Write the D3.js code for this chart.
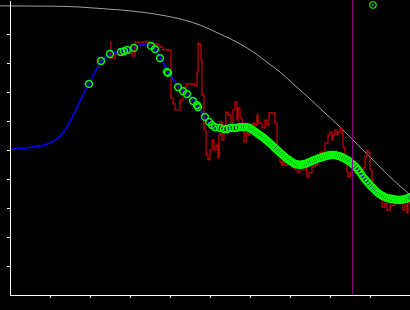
<!DOCTYPE html>
<html>
<head>
<meta charset="utf-8">
<script src="https://cdn.jsdelivr.net/npm/d3@7"></script>
<style>
  html, body { margin: 0; padding: 0; background: #000; overflow: hidden; }
  #chart { width: 410px; height: 310px; }
</style>
</head>
<body>
<div id="chart"></div>
<script>
// tick positions (axes carry no labels)
const xTicks = [1, 2, 3, 4, 5, 6, 7, 8, 9];
const yTicks = [1, 2, 3, 4, 5, 6, 7, 8, 9];

// gray envelope curve
const envX = [-0.25, 1.0, 1.75, 2.25, 2.75, 3.25, 3.75, 4.25, 4.75, 5.25, 5.75, 6.125, 6.45, 6.75, 7.0, 7.25, 7.5, 7.825, 8.2, 8.5, 8.75, 9.0, 9.25, 9.5, 9.75, 10.0];
const envY = [9.97, 9.96, 9.93, 9.88, 9.83, 9.76, 9.66, 9.52, 9.31, 9.0, 8.66, 8.34, 8.0, 7.69, 7.38, 7.07, 6.76, 6.34, 5.86, 5.45, 5.10, 4.76, 4.41, 4.07, 3.76, 3.45];

// blue mean curve
const meanX = [0, 0.25, 0.5, 0.75, 1.0, 1.125, 1.25, 1.375, 1.5, 1.625, 1.75, 1.875, 1.975, 2.125, 2.3, 2.4, 2.5, 2.65, 2.775, 2.925, 3.075, 3.25, 3.4, 3.55, 3.625, 3.75, 3.85, 3.95, 4.075, 4.2, 4.325, 4.425, 4.575, 4.7, 4.85, 4.95, 5.075, 5.2, 5.375, 5.55, 5.75, 5.925, 6.125, 6.375, 6.625, 6.875, 7.125, 7.375, 7.625, 7.875, 8.075, 8.3, 8.5, 8.675, 8.825, 9.0, 9.2, 9.45, 9.7, 9.875, 10.0];
const meanY = [5.03, 5.05, 5.09, 5.14, 5.24, 5.34, 5.48, 5.69, 5.97, 6.31, 6.69, 7.03, 7.28, 7.69, 8.07, 8.21, 8.31, 8.38, 8.41, 8.45, 8.52, 8.62, 8.64, 8.59, 8.48, 8.21, 7.97, 7.69, 7.45, 7.21, 7.03, 6.93, 6.72, 6.48, 6.17, 5.97, 5.79, 5.72, 5.72, 5.76, 5.79, 5.79, 5.62, 5.38, 5.07, 4.76, 4.52, 4.51, 4.66, 4.76, 4.83, 4.76, 4.59, 4.38, 4.07, 3.79, 3.52, 3.34, 3.28, 3.31, 3.38];

// red noisy observations
const obsX = [2.5, 2.525, 2.6, 2.625, 2.7, 2.8, 2.875, 2.975, 3.025, 3.05, 3.1, 3.125, 3.45, 3.5, 3.7, 3.75, 3.825, 4.0, 4.025, 4.075, 4.125, 4.2, 4.25, 4.325, 4.4, 4.575, 4.625, 4.675, 4.7, 4.75, 4.775, 4.8, 4.85, 4.9, 4.95, 5.0, 5.05, 5.1, 5.15, 5.2, 5.225, 5.25, 5.3, 5.35, 5.4, 5.45, 5.525, 5.575, 5.625, 5.675, 5.7, 5.75, 5.8, 5.85, 5.9, 5.95, 6.0, 6.075, 6.125, 6.175, 6.2, 6.3, 6.375, 6.425, 6.475, 6.575, 6.625, 6.675, 6.7, 6.75, 6.8, 6.825, 6.875, 6.95, 7.05, 7.125, 7.2, 7.25, 7.325, 7.4, 7.425, 7.475, 7.55, 7.625, 7.7, 7.75, 7.8, 7.875, 7.95, 8.0, 8.05, 8.075, 8.125, 8.175, 8.2, 8.25, 8.3, 8.325, 8.375, 8.425, 8.45, 8.5, 8.55, 8.625, 8.7, 8.775, 8.825, 8.875, 8.925, 8.95, 9.0, 9.05, 9.075, 9.125, 9.2, 9.25, 9.3, 9.375, 9.425, 9.5, 9.575, 9.625, 9.675, 9.75, 9.8, 9.825, 9.875, 9.925, 9.95, 10.0];
const obsY = [8.72, 8.17, 8.17, 8.31, 8.28, 8.28, 8.38, 8.34, 8.59, 8.24, 8.24, 8.72, 8.72, 8.66, 8.62, 8.55, 8.45, 8.45, 6.79, 6.59, 6.38, 6.38, 6.72, 7.14, 7.28, 7.28, 7.21, 7.69, 8.69, 8.62, 8.10, 6.90, 5.69, 4.83, 4.66, 5.00, 5.34, 5.00, 5.17, 4.72, 5.52, 5.97, 5.34, 5.86, 6.31, 6.21, 5.93, 6.38, 6.66, 6.03, 6.45, 6.10, 5.93, 5.28, 5.62, 5.52, 5.79, 5.93, 5.86, 6.21, 5.93, 5.76, 6.03, 5.86, 6.28, 6.28, 5.93, 5.10, 4.83, 4.59, 4.48, 4.72, 4.48, 4.66, 4.38, 4.31, 4.24, 4.41, 4.31, 4.38, 4.07, 4.21, 4.41, 4.48, 4.66, 4.93, 4.93, 5.24, 5.52, 5.62, 5.34, 5.52, 5.69, 5.52, 5.62, 5.76, 5.59, 5.10, 4.72, 4.24, 4.07, 4.24, 4.31, 4.21, 4.24, 4.07, 4.38, 4.76, 5.00, 4.93, 4.31, 3.97, 3.72, 3.55, 3.45, 3.38, 3.03, 3.17, 2.93, 3.10, 3.10, 3.17, 3.21, 3.28, 3.21, 2.93, 3.10, 2.83, 3.17, 3.28];

// green samples
const sampleX = [1.975, 2.275, 2.5, 2.775, 2.85, 2.925, 3.1, 3.525, 3.625, 3.75, 3.925, 3.95, 4.2, 4.325, 4.425, 4.575, 4.675, 4.7, 4.875, 4.975, 5.05, 5.125, 5.25, 5.35, 5.425, 5.5, 5.575, 5.65, 5.725,
  5.80, 5.85, 5.90, 5.95, 6.00, 6.05, 6.10, 6.15, 6.20, 6.25, 6.30, 6.35, 6.40, 6.45, 6.50, 6.55, 6.60, 6.65, 6.70, 6.75, 6.80, 6.85, 6.90, 6.95, 7.00, 7.05, 7.10, 7.15, 7.20, 7.25, 7.30, 7.35, 7.40, 7.45, 7.50, 7.55, 7.60, 7.65, 7.70, 7.75, 7.80, 7.85, 7.90, 7.95, 8.00, 8.05, 8.10, 8.15, 8.20, 8.25, 8.30, 8.35, 8.40, 8.45, 8.50, 8.55, 8.60, 8.65, 8.70, 8.75, 8.80, 8.85, 8.90, 8.95, 9.00, 9.05, 9.10, 9.15, 9.20, 9.25, 9.30, 9.35, 9.40, 9.45, 9.50, 9.55, 9.60, 9.65, 9.70, 9.75, 9.80, 9.85, 9.90, 9.95, 10.0];
const sampleY = [7.28, 8.07, 8.31, 8.38, 8.41, 8.45, 8.52, 8.59, 8.48, 8.17, 7.69, 7.66, 7.17, 7.03, 6.93, 6.69, 6.55, 6.48, 6.14, 5.97, 5.86, 5.79, 5.76, 5.72, 5.72, 5.76, 5.76, 5.76, 5.79,
  5.79, 5.79, 5.79, 5.78, 5.75, 5.71, 5.66, 5.61, 5.56, 5.51, 5.46, 5.41, 5.35, 5.29, 5.23, 5.17, 5.10, 5.04, 4.97, 4.91, 4.85, 4.79, 4.73, 4.68, 4.63, 4.58, 4.54, 4.51, 4.50, 4.49, 4.50, 4.51, 4.53, 4.56, 4.59, 4.62, 4.65, 4.68, 4.71, 4.73, 4.75, 4.77, 4.79, 4.81, 4.82, 4.83, 4.83, 4.82, 4.80, 4.78, 4.75, 4.72, 4.68, 4.64, 4.59, 4.53, 4.47, 4.40, 4.32, 4.23, 4.13, 4.03, 3.95, 3.87, 3.79, 3.72, 3.65, 3.58, 3.52, 3.47, 3.43, 3.39, 3.36, 3.34, 3.32, 3.31, 3.30, 3.29, 3.28, 3.28, 3.29, 3.30, 3.32, 3.34, 3.37];

// best point and next query position
const bestX = [9.075];
const bestY = [10.0];
const nextX = 8.55;

class ChartVis {
    constructor(_config) {
        this.config = {
            parentElement: _config.parentElement,
            containerWidth: _config.containerWidth || 410,
            containerHeight: _config.containerHeight || 310,
            colors: { axis: '#ffffff', env: '#a0a0a0', mean: '#0000ff', obs: '#d00000', sample: '#00ff00', next: '#8b008b' }
        };
        this.initVis();
    }

    initVis() {
        let vis = this;

        vis.svg = d3.select(vis.config.parentElement)
            .append('svg')
            .attr('width', vis.config.containerWidth)
            .attr('height', vis.config.containerHeight)
            .style('display', 'block')
            .style('background', '#000');

        vis.xScale = d3.scaleLinear().domain([0, 10]).range([10, 410]);
        vis.yScale = d3.scaleLinear().domain([0, 295 / 29]).range([295, 0]);

        vis.line = d3.line()
            .x(d => vis.xScale(d[0]))
            .y(d => vis.yScale(d[1]));

        vis.renderVis();
    }

    renderVis() {
        let vis = this;
        const c = vis.config.colors;

        // gray envelope
        vis.svg.append('path')
            .datum(d3.zip(envX, envY))
            .attr('fill', 'none')
            .attr('stroke', c.env)
            .attr('stroke-width', 1)
            .attr('d', vis.line.curve(d3.curveMonotoneX));

        // noisy observations (step-like)
        vis.svg.append('path')
            .datum(d3.zip(obsX, obsY))
            .attr('fill', 'none')
            .attr('stroke', c.obs)
            .attr('stroke-width', 1.2)
            .attr('d', vis.line.curve(d3.curveStepAfter));

        // mean curve
        vis.svg.append('path')
            .datum(d3.zip(meanX, meanY))
            .attr('fill', 'none')
            .attr('stroke', c.mean)
            .attr('stroke-width', 1.5)
            .attr('d', vis.line.curve(d3.curveCatmullRom));

        // samples along the mean
        vis.svg.append('g')
            .selectAll('circle')
            .data(d3.zip(sampleX, sampleY))
            .join('circle')
                .attr('cx', d => vis.xScale(d[0]))
                .attr('cy', d => vis.yScale(d[1]))
                .attr('r', 3.4)
                .attr('fill', 'none')
                .attr('stroke', c.sample)
                .attr('stroke-width', 1.5);

        // vertical marker
        vis.svg.append('line')
            .attr('x1', vis.xScale(nextX)).attr('x2', vis.xScale(nextX))
            .attr('y1', vis.yScale.range()[1]).attr('y2', vis.yScale(0))
            .attr('stroke', c.next)
            .attr('stroke-width', 1)
            .attr('shape-rendering', 'crispEdges');

        // best point
        const best = vis.svg.append('g')
            .selectAll('g')
            .data(d3.zip(bestX, bestY))
            .join('g')
                .attr('transform', d => `translate(${vis.xScale(d[0])},${vis.yScale(d[1])})`);
        best.append('circle').attr('r', 3.2).attr('fill', 'none')
            .attr('stroke', c.sample).attr('stroke-width', 1.1);
        best.append('circle').attr('r', 0.8).attr('fill', c.sample);

        // axes, no labels
        const xAxis = d3.axisBottom(vis.xScale).tickValues(xTicks).tickSize(3).tickSizeOuter(0).tickFormat('');
        const yAxis = d3.axisLeft(vis.yScale).tickValues(yTicks).tickSize(3).tickSizeOuter(0).tickFormat('');

        const xG = vis.svg.append('g').attr('transform', 'translate(0,295)').call(xAxis);
        const yG = vis.svg.append('g').attr('transform', 'translate(10,0)').call(yAxis);
        [xG, yG].forEach(g => {
            g.attr('shape-rendering', 'crispEdges');
            g.select('.domain').attr('stroke', c.axis);
            g.selectAll('.tick line').attr('stroke', c.axis);
        });
    }
}

new ChartVis({ parentElement: '#chart' });
</script>
</body>
</html>
